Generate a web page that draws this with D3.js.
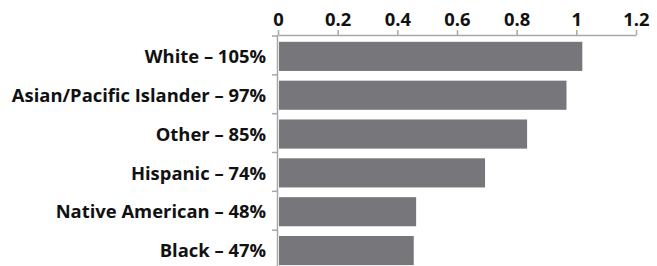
<!DOCTYPE html>
<html><head><meta charset="utf-8">
<script src="https://cdn.jsdelivr.net/npm/d3@7"></script>
<style>body{margin:0;background:#fff}svg{display:block}</style>
</head><body>
<svg id="c" width="657" height="266"></svg>
<script>
const categories = ["White – 105%","Asian/Pacific Islander – 97%","Other – 85%","Hispanic – 74%","Native American – 48%","Black – 47%"];
const values = [1.02, 0.967, 0.835, 0.694, 0.463, 0.455];
const tickValues = [0, 0.2, 0.4, 0.6, 0.8, 1, 1.2];

(function(){
const svg = d3.select("#c");
const mLeft = 278, mRight = 636, mTop = 36, mBottom = 269;
const x = d3.scaleLinear().domain([0, 1.2]).range([mLeft, mRight]);
const y = d3.scaleBand().domain(categories).range([mTop, mBottom])
  .paddingInner(0.25).paddingOuter(0.125).align(0.6);

const font = "'Open Sans', Lato, sans-serif";
const axisColor = "#a7a7a7";

svg.selectAll("rect.bar").data(categories).join("rect")
  .attr("class","bar")
  .attr("x", x(0) + 1)
  .attr("y", d => y(d))
  .attr("width", (d,i) => x(values[i]) - x(0) - 1)
  .attr("height", y.bandwidth())
  .attr("fill", "#77777b");

// top axis
const ax = svg.append("g").attr("transform", `translate(0,${mTop - 1})`)
  .call(d3.axisTop(x).tickValues(tickValues).tickSize(5).tickSizeOuter(0).tickPadding(4).tickFormat(d3.format("")));
ax.select(".domain").attr("stroke", axisColor).attr("stroke-width", 1.5);
ax.selectAll(".tick line").attr("stroke", axisColor).attr("stroke-width", 1.5);
ax.selectAll(".tick text").attr("fill", "#111").style("font-family", font)
  .style("font-weight", "bold").style("font-size", "18.4px");

// left axis
const step = y.step();
const lg = svg.append("g");
lg.append("line").attr("x1", x(0) - 0.5).attr("x2", x(0) - 0.5)
  .attr("y1", mTop - 1).attr("y2", 266).attr("stroke", axisColor).attr("stroke-width", 1.5);
lg.selectAll("line.t").data(categories).join("line").attr("class","t")
  .attr("x1", x(0) - 6).attr("x2", x(0))
  .attr("y1", (d,i) => mTop + i*step).attr("y2", (d,i) => mTop + i*step)
  .attr("stroke", axisColor).attr("stroke-width", 1.5);
lg.selectAll("text").data(categories).join("text")
  .attr("x", x(0) - 12)
  .attr("y", d => y(d) + y.bandwidth()/2)
  .attr("dy", "0.36em")
  .attr("text-anchor", "end")
  .attr("fill", "#111")
  .style("font-family", font).style("font-weight", "bold").style("font-size", "18.4px")
  .text(d => d);
})();
</script>
</body></html>
